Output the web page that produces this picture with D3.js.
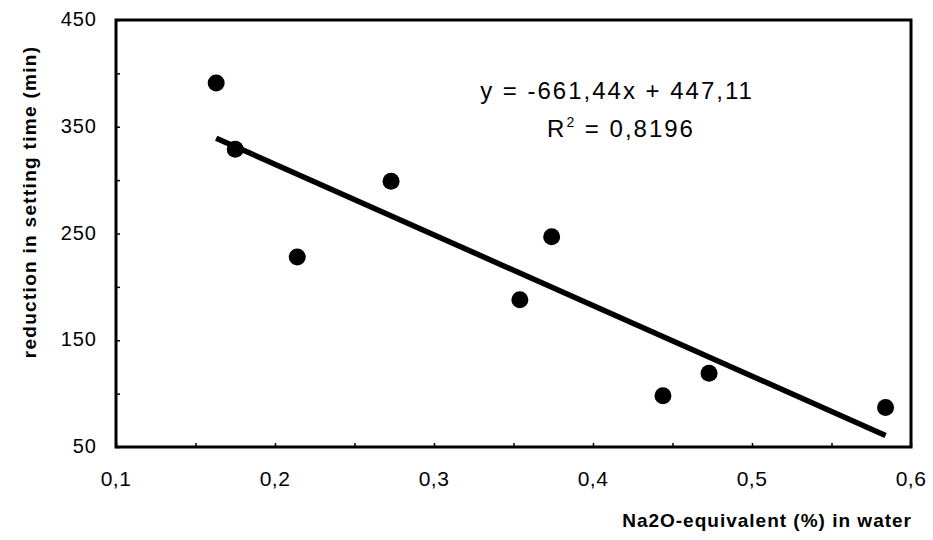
<!DOCTYPE html>
<html>
<head>
<meta charset="utf-8">
<script src="https://cdn.jsdelivr.net/npm/d3@7"></script>
<style>
  body { margin: 0; background: #fff; }
  svg { display: block; font-family: Arial, "Liberation Sans", sans-serif; }
</style>
</head>
<body>
<svg id="chart" width="933" height="540"></svg>
<script>
// Na2O-equivalent (%) vs reduction in setting time (min)
const naO = [0.163, 0.175, 0.214, 0.273, 0.354, 0.374, 0.444, 0.473, 0.584];
const reduction = [391, 329, 228, 299, 188, 247, 98, 119, 87];
const slope = -661.44;
const intercept = 447.11;
const xTicks = [0.1, 0.15, 0.2, 0.25, 0.3, 0.35, 0.4, 0.45, 0.5, 0.55, 0.6];
const yTicks = [50, 100, 150, 200, 250, 300, 350, 400, 450];
const xLabels = [0.1, 0.2, 0.3, 0.4, 0.5, 0.6];
const yLabels = [50, 150, 250, 350, 450];
const eqText = 'y = -661,44x + 447,11';
const r2Text = '0,8196';

const margin = { top: 20, right: 22, bottom: 93, left: 116 };
const svg = d3.select('#chart');
const width = +svg.attr('width') - margin.left - margin.right;
const height = +svg.attr('height') - margin.top - margin.bottom;

const x = d3.scaleLinear().domain([0.1, 0.6]).range([0, width]);
const y = d3.scaleLinear().domain([50, 450]).range([height, 0]);

const g = svg.append('g')
  .attr('transform', `translate(${margin.left},${margin.top})`);

const comma = (d) => d3.format('.1f')(d).replace('.', ',');

// inward ticks, labels only on every other one
const xAxis = g.append('g')
  .attr('transform', `translate(0,${height})`)
  .call(d3.axisBottom(x).tickValues(xTicks).tickSizeInner(-4).tickSizeOuter(0).tickFormat(''));
const yAxis = g.append('g')
  .call(d3.axisLeft(y).tickValues(yTicks).tickSizeInner(-4).tickSizeOuter(0).tickFormat(''));
[xAxis, yAxis].forEach((a) => {
  a.select('.domain').remove();
  a.selectAll('.tick line').attr('stroke', '#000').attr('stroke-width', 1.5);
});

g.append('rect')
  .attr('width', width)
  .attr('height', height)
  .attr('fill', 'none')
  .attr('stroke', '#000')
  .attr('stroke-width', 3);

g.selectAll('.xlab')
  .data(xLabels)
  .enter()
  .append('text')
  .attr('class', 'xlab')
  .attr('x', (d) => x(d))
  .attr('y', height + 39)
  .attr('text-anchor', 'middle')
  .attr('font-size', 21)
  .attr('letter-spacing', 0.5)
  .text(comma);

g.selectAll('.ylab')
  .data(yLabels)
  .enter()
  .append('text')
  .attr('class', 'ylab')
  .attr('x', -19)
  .attr('y', (d) => y(d) + 6)
  .attr('text-anchor', 'end')
  .attr('font-size', 20)
  .attr('letter-spacing', 1)
  .text((d) => d);

// trend line over the data range
const xs = d3.extent(naO);
g.append('line')
  .attr('x1', x(xs[0]))
  .attr('y1', y(slope * xs[0] + intercept))
  .attr('x2', x(xs[1]))
  .attr('y2', y(slope * xs[1] + intercept))
  .attr('stroke', '#000')
  .attr('stroke-width', 5.5);

g.selectAll('.pt')
  .data(naO)
  .enter()
  .append('circle')
  .attr('class', 'pt')
  .attr('cx', (d) => x(d))
  .attr('cy', (d, i) => y(reduction[i]))
  .attr('r', 8.5)
  .attr('fill', '#000');

svg.append('text')
  .attr('x', 617)
  .attr('y', 99)
  .attr('text-anchor', 'middle')
  .attr('font-size', 24)
  .attr('letter-spacing', 2)
  .text(eqText);

const r2 = svg.append('text')
  .attr('x', 621)
  .attr('y', 137)
  .attr('text-anchor', 'middle')
  .attr('font-size', 24)
  .attr('letter-spacing', 2);
r2.append('tspan').text('R');
r2.append('tspan').attr('dy', -10).attr('font-size', 14).text('2');
r2.append('tspan').attr('dy', 10).text(' = ' + r2Text);

svg.append('text')
  .attr('x', 912)
  .attr('y', 527)
  .attr('text-anchor', 'end')
  .attr('font-size', 19)
  .attr('font-weight', 'bold')
  .attr('letter-spacing', 1)
  .text('Na2O-equivalent (%) in water');

svg.append('text')
  .attr('transform', 'translate(36,202) rotate(-90)')
  .attr('text-anchor', 'middle')
  .attr('font-size', 19)
  .attr('font-weight', 'bold')
  .attr('letter-spacing', 1.3)
  .text('reduction in setting time (min)');
</script>
</body>
</html>
